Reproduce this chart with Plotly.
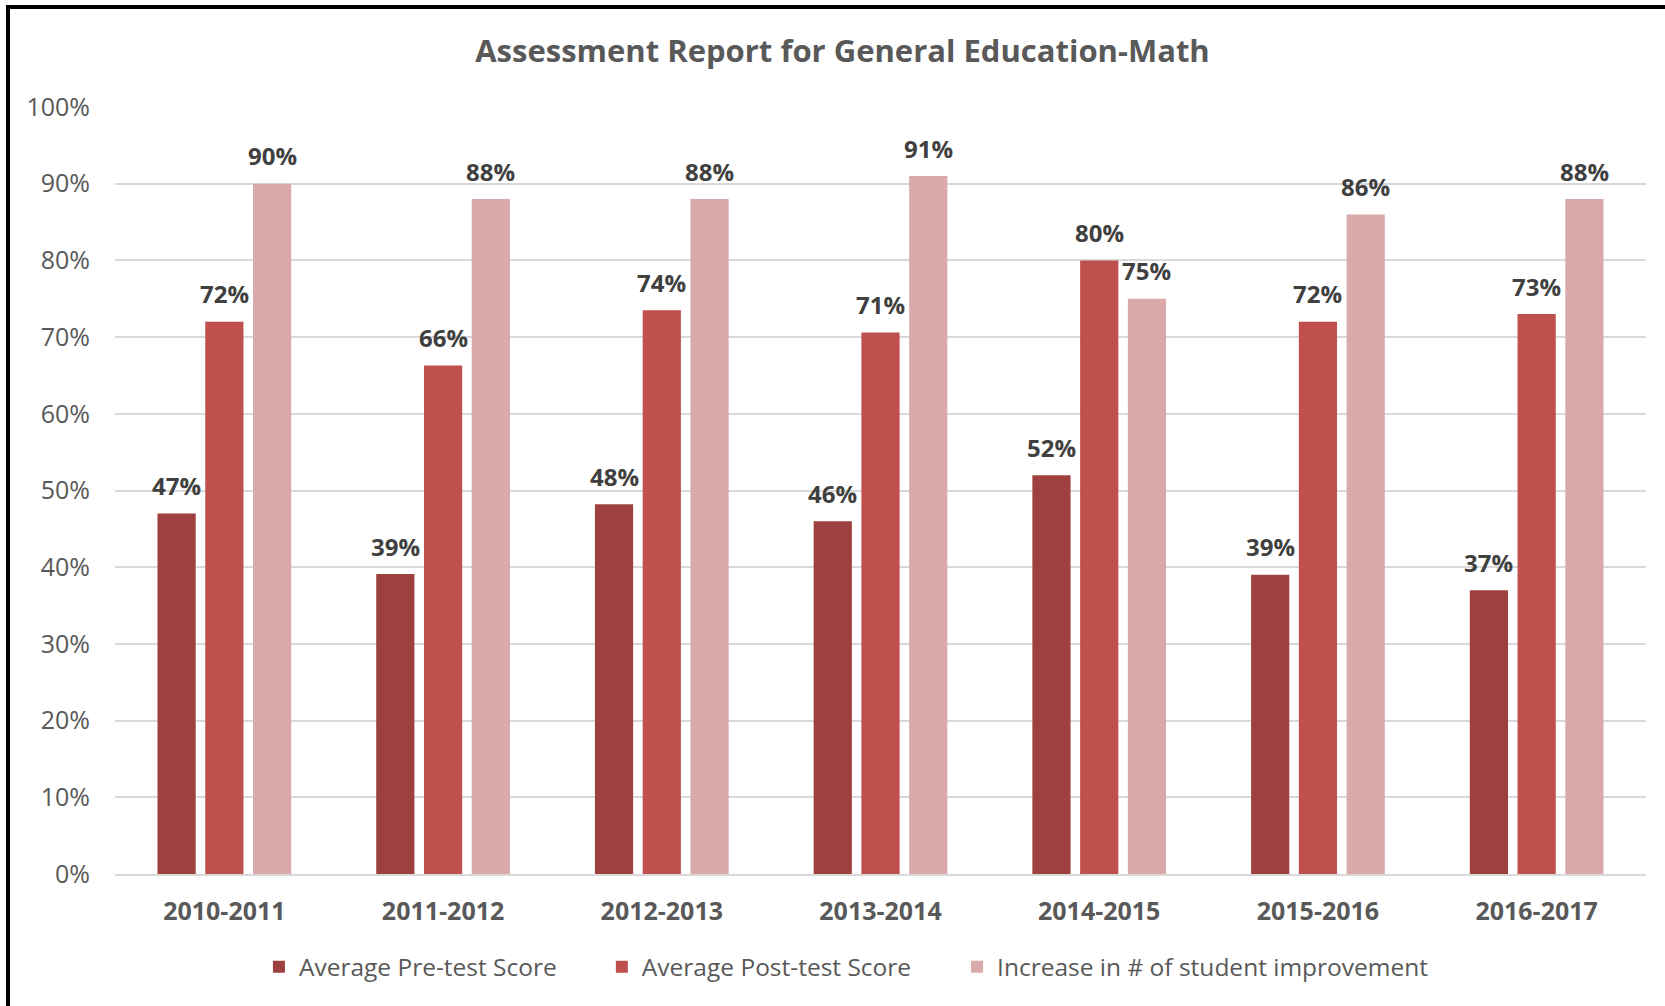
import plotly.graph_objects as go

categories = ["2010-2011", "2011-2012", "2012-2013", "2013-2014", "2014-2015", "2015-2016", "2016-2017"]
pre_test = [0.47, 0.391, 0.482, 0.46, 0.52, 0.39, 0.37]
post_test = [0.72, 0.663, 0.735, 0.706, 0.80, 0.72, 0.73]
improvement = [0.90, 0.88, 0.88, 0.91, 0.75, 0.86, 0.88]
series_names = ["Average Pre-test Score", "Average Post-test Score", "Increase in # of student improvement"]
series_colors = ["#9E403E", "#C0504D", "#DAA9A9"]
title_text = "Assessment Report for General Education-Math"

FONT = "Open Sans"
W, H = 1665, 1006
ML, MR, MT, MB = 115, 19, 107, 132
BARGAP = 0.345
LEGEND_X = [0.094, 0.318, 0.550]

fig = go.Figure()
all_series = [pre_test, post_test, improvement]
legend_ids = ["legend", "legend2", "legend3"]
for name, vals, col, lg in zip(series_names, all_series, series_colors, legend_ids):
    fig.add_trace(go.Bar(
        x=categories, y=vals, name=name, marker=dict(color=col, line=dict(width=0)),
        legend=lg,
    ))

# data labels placed above each bar (offset matches grouped bar slots)
plot_w = W - ML - MR
slot = plot_w / len(categories) * (1 - BARGAP) / len(all_series)
for si, vals in enumerate(all_series):
    dx = (si - (len(all_series) - 1) / 2) * slot
    for cat, v in zip(categories, vals):
        fig.add_annotation(x=cat, y=v, xref="x", yref="y", text=f"{v:.0%}", showarrow=False,
                           xshift=dx, yshift=28, yanchor="middle", xanchor="center",
                           font=dict(family=FONT, size=24, color="#404040", weight="bold"))

legend_style = dict(orientation="h", y=-0.121, yanchor="middle", xanchor="left",
                    font=dict(family=FONT, size=24.5, color="#595959"), itemwidth=30,
                    bgcolor="rgba(0,0,0,0)")
fig.update_layout(
    width=W, height=H,
    paper_bgcolor="white", plot_bgcolor="white",
    margin=dict(l=ML, r=MR, t=MT, b=MB),
    barmode="group", bargap=BARGAP, bargroupgap=0.2,
    title=dict(text=title_text, x=0.506, xanchor="center",
               y=1 - 51 / H, yanchor="middle",
               font=dict(family=FONT, size=31, color="#595959", weight="bold")),
    font=dict(family=FONT, color="#595959"),
    legend=dict(x=LEGEND_X[0], **legend_style),
    legend2=dict(x=LEGEND_X[1], **legend_style),
    legend3=dict(x=LEGEND_X[2], **legend_style),
    showlegend=True,
)
fig.update_yaxes(range=[0, 1], dtick=0.1, tickformat=".0%", showgrid=True, gridcolor="#D9D9D9",
                 gridwidth=2, zeroline=False, showline=False,
                 tickfont=dict(family=FONT, size=25, color="#595959"), ticklabelstandoff=24)
fig.update_xaxes(showline=True, linecolor="#D9D9D9", linewidth=2, showgrid=False,
                 tickfont=dict(family=FONT, size=25, color="#595959", weight="bold"),
                 ticklabelstandoff=14)
# outer chart border (top and left visible)
plot_h = H - MT - MB
fig.add_shape(type="rect", xref="paper", yref="paper",
              x0=(8 - ML) / plot_w, x1=1.2, y0=-0.5, y1=1 + (MT - 7) / plot_h,
              line=dict(color="black", width=4), fillcolor="rgba(0,0,0,0)", layer="above")

fig.write_html("out.html", config={"displayModeBar": False},
               post_script="document.body.style.margin='0px';")
